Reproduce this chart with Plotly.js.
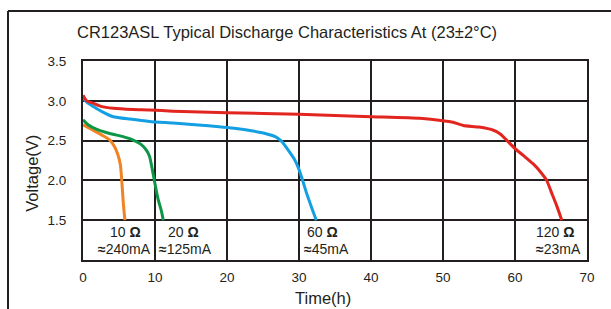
<!DOCTYPE html>
<html>
<head>
<meta charset="utf-8">
<script src="https://cdn.plot.ly/plotly-3.0.1.min.js"></script>
<style>
html,body{margin:0;padding:0;background:#fff;}
#chart{width:611px;height:309px;}
</style>
</head>
<body>
<div id="chart"></div>
<script>
// Data
const t10 = [0, 1.4, 2.8, 3.7, 4.4, 4.86, 5.2, 5.4, 5.55, 5.7, 5.83];
const v10 = [2.70, 2.63, 2.56, 2.51, 2.42, 2.32, 2.19, 1.98, 1.775, 1.61, 1.5];

const t20 = [0, 0.7, 1.85, 3.7, 5.55, 6.9, 8.1, 8.8, 9.25, 9.6, 9.95, 10.4, 10.9, 11.15];
const v20 = [2.76, 2.70, 2.645, 2.59, 2.55, 2.51, 2.45, 2.38, 2.30, 2.15, 1.98, 1.775, 1.61, 1.5];

const t60 = [0, 0.7, 1.4, 2.5, 4.2, 6.5, 9.25, 12.5, 16, 18.9, 21, 23.6, 25.3, 26.7, 27.6, 28.5, 29.4, 29.9, 30.4, 31.05, 31.75, 32.4];
const v60 = [3.03, 2.97, 2.93, 2.87, 2.80, 2.77, 2.74, 2.72, 2.695, 2.675, 2.655, 2.62, 2.59, 2.55, 2.49, 2.38, 2.26, 2.16, 2.03, 1.84, 1.66, 1.5];

const t120 = [0, 0.5, 1.4, 2.5, 4.2, 7, 9.25, 12.5, 20, 30, 40, 46.8, 50, 51.4, 52.8, 55, 57, 58, 58.9, 60, 61.2, 62.5, 63.6, 64.4, 65.1, 65.8, 66.5];
const v120 = [3.07, 3.0, 2.97, 2.93, 2.905, 2.89, 2.885, 2.87, 2.85, 2.83, 2.80, 2.78, 2.75, 2.73, 2.69, 2.67, 2.63, 2.58, 2.50, 2.40, 2.31, 2.21, 2.10, 2.0, 1.84, 1.68, 1.5];

const xTicks = [0, 10, 20, 30, 40, 50, 60, 70];
const yTicks = [1.5, 2.0, 2.5, 3.0, 3.5];
const yTickText = ['1.5', '2.0', '2.5', '3.0', '3.5'];

const approx = '<b>≈</b>';
const loadLabels = ['10 <b>Ω</b>', '20 <b>Ω</b>', '60 <b>Ω</b>', '120 <b>Ω</b>'];
const currentLabels = ['240mA', '125mA', '45mA', '23mA'];

const titleText = 'CR123ASL Typical Discharge Characteristics At (23±2°C)';
const xTitle = 'Time(h)';
const yTitle = 'Voltage(V)';

const colors = ['#f08323', '#0e9647', '#139fe2', '#e2251f'];
const series = [[t10, v10], [t20, v20], [t60, v60], [t120, v120]];

const traces = series.map((s, i) => ({
  x: s[0], y: s[1], type: 'scatter', mode: 'lines',
  line: {color: colors[i], width: 3, shape: 'spline', smoothing: 0.5},
  hoverinfo: 'skip', showlegend: false
}));

const labelX1 = [5.97, 14.0, 33.3, 65.6];
const labelX2 = [5.8, 14.2, 33.75, 66.0];
const sans = 'Liberation Sans, Arial, sans-serif';
const annotations = [];
loadLabels.forEach((txt, i) => {
  annotations.push({x: labelX1[i], y: 1.35, xref: 'x', yref: 'y', text: txt, showarrow: false,
    font: {family: sans, size: 14, color: '#231f20'}, xanchor: 'center', yanchor: 'middle'});
  annotations.push({x: labelX2[i], y: 1.135, xref: 'x', yref: 'y', text: approx + currentLabels[i], showarrow: false,
    font: {family: sans, size: 14, color: '#231f20'}, xanchor: 'center', yanchor: 'middle'});
});
annotations.push({x: 0.405, y: 1.1457, xref: 'paper', yref: 'paper', text: titleText, showarrow: false,
  font: {family: sans, size: 16.5, color: '#231f20'}, xanchor: 'center', yanchor: 'middle'});
annotations.push({x: 0.477, y: -0.191, xref: 'paper', yref: 'paper', text: xTitle, showarrow: false,
  font: {family: sans, size: 16.5, color: '#231f20'}, xanchor: 'center', yanchor: 'middle'});
annotations.push({x: -0.1018, y: 0.437, xref: 'paper', yref: 'paper', text: yTitle, showarrow: false, textangle: -90,
  font: {family: sans, size: 16.5, color: '#231f20'}, xanchor: 'center', yanchor: 'middle'});

const layout = {
  width: 611, height: 309,
  margin: {l: 83, r: 24, t: 61, b: 49, pad: 0},
  paper_bgcolor: '#ffffff', plot_bgcolor: '#ffffff',
  font: {family: sans, size: 13, color: '#231f20'},
  xaxis: {
    range: [0, 70], tickvals: xTicks, ticktext: xTicks.map(String),
    showgrid: true, gridcolor: '#231f20', gridwidth: 2,
    showline: true, linecolor: '#231f20', linewidth: 2, mirror: true,
    zeroline: false, ticks: '', ticklabelstandoff: 4,
    tickfont: {family: sans, size: 13.5, color: '#231f20'}
  },
  yaxis: {
    range: [1.0, 3.5], tickvals: yTicks, ticktext: yTickText,
    showgrid: true, gridcolor: '#231f20', gridwidth: 2,
    showline: true, linecolor: '#231f20', linewidth: 2, mirror: true,
    zeroline: false, ticks: '', ticklabelstandoff: 12,
    tickfont: {family: sans, size: 13.5, color: '#231f20'}
  },
  shapes: [
    {type: 'line', xref: 'paper', yref: 'paper', x0: -0.1488, x1: 1.06, y0: 1.2513, y1: 1.2513,
      line: {color: '#231f20', width: 2}},
    {type: 'line', xref: 'paper', yref: 'paper', x0: -0.1488, x1: -0.1488, y0: 1.2513, y1: -0.26,
      line: {color: '#231f20', width: 2}}
  ],
  annotations: annotations
};

Plotly.newPlot('chart', traces, layout, {staticPlot: true, displayModeBar: false});
</script>
</body>
</html>
